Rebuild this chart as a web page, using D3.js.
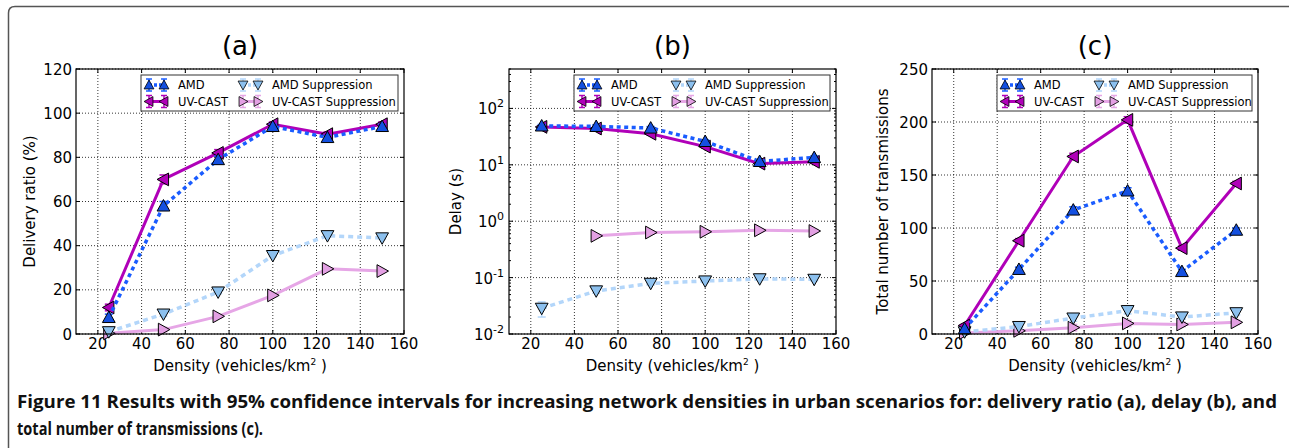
<!DOCTYPE html>
<html>
<head>
<meta charset="utf-8">
<script src="https://cdn.jsdelivr.net/npm/d3@7"></script>
<style>
  body { margin: 0; background: #fff; }
  svg { display: block; }
  text { font-family: "DejaVu Sans", sans-serif; }
</style>
</head>
<body>
<div id="fig"></div>
<script>
// densities (vehicles/km^2)
let density = [25, 50, 75, 100, 125, 150];
let seriesNames = ["AMD", "UV-CAST", "AMD Suppression", "UV-CAST Suppression"];

// (a) delivery ratio (%)
let ratioAMD = [7.5, 58, 79, 94, 89, 94];
let ratioUV = [12, 70, 82, 95, 90.5, 95];
let ratioAMDSup = [1, 9, 19, 35.5, 44.5, 43.5];
let ratioUVSup = [0.3, 2, 8, 17.5, 29.5, 28.5];
let ratioErr = [1.5, 2, 1.5, 1, 1, 1];

// (b) delay (s), UV-CAST suppression has no value at 25
let delayAMD = [49, 48, 45, 26, 11.5, 13.5];
let delayUV = [47, 44, 35.5, 21, 10.5, 11.3];
let delayAMDSup = [0.0285, 0.058, 0.079, 0.087, 0.095, 0.093];
let delayUVSup = [null, 0.55, 0.63, 0.65, 0.69, 0.67];
let delayAMDSupLo = [0.02, 0.053, 0.074, 0.082, 0.09, 0.088];
let delayAMDSupHi = [0.037, 0.063, 0.084, 0.092, 0.1, 0.098];

// (c) total number of transmissions
let txAMD = [5, 61, 117, 135, 59, 98];
let txUV = [8, 88, 167.5, 202, 81, 142];
let txAMDSup = [2, 7, 15, 22, 16, 20];
let txUVSup = [1, 3, 6, 10, 9, 11];
let txErr = [1, 2, 3, 3, 2, 2];

let xTicks = [20, 40, 60, 80, 100, 120, 140, 160];
let ratioTicks = [0, 20, 40, 60, 80, 100, 120];
let delayTicks = [-2, -1, 0, 1, 2];
let txTicks = [0, 50, 100, 150, 200, 250];

let width = 1291, height = 448;
let plotTop = 69, plotBottom = 334;

let styles = [
  { line: "#1a5cff", fill: "#1450e0", dash: "4,3.5", w: 3.5, marker: "up" },
  { line: "#b000b8", fill: "#b000b8", dash: null, w: 3, marker: "left" },
  { line: "#b3d6fa", fill: "#8cc0ee", dash: "5,4", w: 3.5, marker: "down" },
  { line: "#e6a6e6", fill: "#e3a0e3", dash: null, w: 3, marker: "right" }
];

let svg = d3.select("#fig").append("svg")
  .attr("width", width)
  .attr("height", height);

// figure frame
svg.append("path")
  .attr("d", "M8.5,448 L8.5,13 Q8.5,6.5 15,6.5 L1289,6.5")
  .attr("fill", "none")
  .attr("stroke", "#555")
  .attr("stroke-width", 1.5);

function markerPath(kind, s) {
  let h = s * 0.58;
  if (kind == "up") return `M0,${-h} L${h},${h*0.8} L${-h},${h*0.8} Z`;
  if (kind == "down") return `M0,${h} L${h},${-h*0.8} L${-h},${-h*0.8} Z`;
  if (kind == "left") return `M${-h},0 L${h*0.8},${-h} L${h*0.8},${h} Z`;
  return `M${h},0 L${-h*0.8},${-h} L${-h*0.8},${h} Z`;
}

let panels = [
  {
    title: "(a)", left: 76, right: 404, ylabel: "Delivery ratio (%)", ylabelX: 35,
    y: d3.scaleLinear().domain([0, 120]), yTicks: ratioTicks, log: false,
    series: [ratioAMD, ratioUV, ratioAMDSup, ratioUVSup],
    err: (si, i, v) => [v - ratioErr[i] * (si < 2 ? 1 : 0.5), v + ratioErr[i] * (si < 2 ? 1 : 0.5)]
  },
  {
    title: "(b)", left: 509, right: 836, ylabel: "Delay (s)", ylabelX: 461,
    y: d3.scaleLog().domain([0.01, 500]), yTicks: delayTicks, log: true,
    series: [delayAMD, delayUV, delayAMDSup, delayUVSup],
    err: (si, i, v) => si == 2 ? [delayAMDSupLo[i], delayAMDSupHi[i]] : [v * 0.94, v * 1.06]
  },
  {
    title: "(c)", left: 932, right: 1258, ylabel: "Total number of transmissions", ylabelX: 888,
    y: d3.scaleLinear().domain([0, 250]), yTicks: txTicks, log: false,
    series: [txAMD, txUV, txAMDSup, txUVSup],
    err: (si, i, v) => [v - txErr[i], v + txErr[i]]
  }
];

panels.forEach((p) => {
  let x = d3.scaleLinear().domain([10, 160]).range([p.left, p.right]);
  let y = p.y.range([plotBottom, plotTop]);
  let g = svg.append("g");

  // title
  g.append("text")
    .attr("x", (p.left + p.right) / 2)
    .attr("y", 55)
    .attr("text-anchor", "middle")
    .attr("font-size", 26)
    .text(p.title);

  // grid
  let yVals = p.log ? p.yTicks.map((e) => Math.pow(10, e)) : p.yTicks;
  g.selectAll(".gx").data(xTicks.slice(0, -1)).enter().append("line")
    .attr("x1", (d) => x(d)).attr("x2", (d) => x(d))
    .attr("y1", plotTop).attr("y2", plotBottom)
    .attr("stroke", "#000").attr("stroke-width", 0.8)
    .attr("stroke-dasharray", "1,2");
  g.selectAll(".gy").data(yVals).enter().append("line")
    .attr("x1", p.left).attr("x2", p.right)
    .attr("y1", (d) => y(d)).attr("y2", (d) => y(d))
    .attr("stroke", "#000").attr("stroke-width", 0.8)
    .attr("stroke-dasharray", "1,2");

  // inward ticks on all sides
  let ticks = g.append("g").attr("stroke", "#000").attr("stroke-width", 1);
  xTicks.forEach((t) => {
    ticks.append("line").attr("x1", x(t)).attr("x2", x(t)).attr("y1", plotBottom).attr("y2", plotBottom - 4);
    ticks.append("line").attr("x1", x(t)).attr("x2", x(t)).attr("y1", plotTop).attr("y2", plotTop + 4);
  });
  yVals.forEach((t) => {
    ticks.append("line").attr("x1", p.left).attr("x2", p.left + 4).attr("y1", y(t)).attr("y2", y(t));
    ticks.append("line").attr("x1", p.right).attr("x2", p.right - 4).attr("y1", y(t)).attr("y2", y(t));
  });
  if (p.log) {
    let minor = [];
    for (let e = -2; e <= 2; e++) for (let k = 2; k <= 9; k++) {
      let v = k * Math.pow(10, e);
      if (v <= 500) minor.push(v);
    }
    minor.forEach((t) => {
      ticks.append("line").attr("x1", p.left).attr("x2", p.left + 2).attr("y1", y(t)).attr("y2", y(t));
      ticks.append("line").attr("x1", p.right).attr("x2", p.right - 2).attr("y1", y(t)).attr("y2", y(t));
    });
  }

  // tick labels
  g.selectAll(".xl").data(xTicks).enter().append("text")
    .attr("x", (d) => x(d)).attr("y", 349)
    .attr("text-anchor", "middle").attr("font-size", 15)
    .text((d) => d);
  if (p.log) {
    let yl = g.selectAll(".yl").data(p.yTicks).enter().append("text")
      .attr("x", p.left - 5).attr("y", (d) => y(Math.pow(10, d)) + 6)
      .attr("text-anchor", "end").attr("font-size", 15);
    yl.append("tspan").text("10");
    yl.append("tspan").attr("dy", -7).attr("font-size", 11).text((d) => d);
  } else {
    g.selectAll(".yl").data(p.yTicks).enter().append("text")
      .attr("x", p.left - 4).attr("y", (d) => y(d) + 5.5)
      .attr("text-anchor", "end").attr("font-size", 15)
      .text((d) => d);
  }

  // axis labels
  let xl = g.append("text")
    .attr("x", (p.left + p.right) / 2).attr("y", 371)
    .attr("text-anchor", "middle").attr("font-size", 15);
  xl.append("tspan").text("Density (vehicles/km");
  xl.append("tspan").attr("dy", -6).attr("font-size", 9).text("2");
  xl.append("tspan").attr("dy", 6).text(" )");
  g.append("text")
    .attr("transform", `translate(${p.ylabelX},${(plotTop + plotBottom) / 2}) rotate(-90)`)
    .attr("text-anchor", "middle").attr("font-size", 15)
    .text(p.ylabel);

  // series: draw lighter ones first
  [3, 2, 1, 0].forEach((si) => {
    let st = styles[si];
    let pts = density.map((d, i) => ({ d: d, v: p.series[si][i], i: i })).filter((o) => o.v != null);
    let line = d3.line().x((o) => x(o.d)).y((o) => y(o.v));
    let sg = g.append("g");
    // error bars
    pts.forEach((o) => {
      let e = p.err(si, o.i, o.v);
      sg.append("line").attr("x1", x(o.d)).attr("x2", x(o.d))
        .attr("y1", y(Math.max(e[0], p.log ? 0.011 : 0))).attr("y2", y(e[1]))
        .attr("stroke", st.line).attr("stroke-width", 1.5);
      [e[0], e[1]].forEach((c) => {
        if (!p.log && c < 0) return;
        sg.append("line").attr("x1", x(o.d) - 4).attr("x2", x(o.d) + 4)
          .attr("y1", y(c)).attr("y2", y(c))
          .attr("stroke", st.line).attr("stroke-width", 1.5);
      });
    });
    sg.append("path").datum(pts)
      .attr("d", line)
      .attr("fill", "none")
      .attr("stroke", st.line)
      .attr("stroke-width", st.w)
      .attr("stroke-dasharray", st.dash);
    sg.selectAll("path.m").data(pts).enter().append("path")
      .attr("class", "m")
      .attr("transform", (o) => `translate(${x(o.d)},${y(o.v)})`)
      .attr("d", markerPath(st.marker, 11))
      .attr("fill", st.fill)
      .attr("stroke", "#000").attr("stroke-width", 1);
  });

  // frame
  g.append("rect")
    .attr("x", p.left).attr("y", plotTop)
    .attr("width", p.right - p.left).attr("height", plotBottom - plotTop)
    .attr("fill", "none").attr("stroke", "#000").attr("stroke-width", 1.2);

  // legend
  let lx = p.left + 65, ly = 75;
  let lg = g.append("g");
  lg.append("rect")
    .attr("x", lx).attr("y", ly)
    .attr("width", p.right - 6 - lx).attr("height", 36)
    .attr("fill", "#fff").attr("stroke", "#333").attr("stroke-width", 1);
  seriesNames.forEach((name, si) => {
    let st = styles[si];
    let col = si >= 2 ? 1 : 0, row = si % 2;
    let hx = lx + 8 + col * 94, hy = ly + 10 + row * 16.5;
    lg.append("line").attr("x1", hx).attr("x2", hx + 15).attr("y1", hy).attr("y2", hy)
      .attr("stroke", st.line).attr("stroke-width", st.w).attr("stroke-dasharray", st.dash ? "3,2" : null);
    [hx, hx + 15].forEach((mx) => {
      lg.append("line").attr("x1", mx).attr("x2", mx).attr("y1", hy - 6).attr("y2", hy + 6)
        .attr("stroke", st.line).attr("stroke-width", 1.5);
      [hy - 6, hy + 6].forEach((cy) => {
        lg.append("line").attr("x1", mx - 3).attr("x2", mx + 3).attr("y1", cy).attr("y2", cy)
          .attr("stroke", st.line).attr("stroke-width", 1.5);
      });
      lg.append("path")
        .attr("transform", `translate(${mx},${hy})`)
        .attr("d", markerPath(st.marker, 8.5))
        .attr("fill", st.fill).attr("stroke", "#000").attr("stroke-width", 0.8);
    });
    lg.append("text")
      .attr("x", hx + 29).attr("y", hy + 4)
      .attr("font-size", 11.5)
      .text(name);
  });
});

// caption, narrow bold face like the journal's condensed font
let capFont = "'Liberation Sans Narrow', 'Arial Narrow', 'Open Sans', sans-serif";
let cap = svg.append("g");
let c1 = cap.append("text")
  .attr("x", 17).attr("y", 408)
  .attr("font-size", 18).attr("font-weight", 700).attr("fill", "#111")
  .attr("textLength", 1260).attr("lengthAdjust", "spacingAndGlyphs")
  .style("font-family", capFont);
c1.append("tspan").text("Figure 11 ");
c1.append("tspan")
  .text("Results with 95% confidence intervals for increasing network densities in urban scenarios for: delivery ratio (a), delay (b), and");
cap.append("text")
  .attr("x", 17).attr("y", 435)
  .attr("font-size", 18).attr("font-weight", 700).attr("fill", "#111")
  .attr("textLength", 246).attr("lengthAdjust", "spacingAndGlyphs")
  .style("font-family", capFont)
  .text("total number of transmissions (c).");
</script>
</body>
</html>
